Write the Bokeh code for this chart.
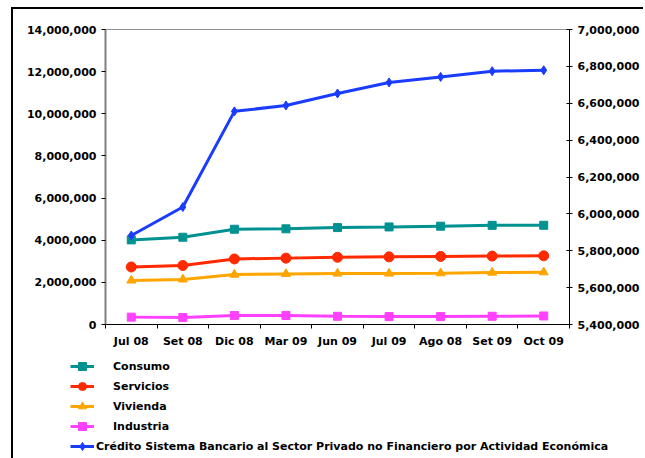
import numpy as np
from bokeh.plotting import figure
from bokeh.models import (Range1d, LinearAxis, FixedTicker, NumeralTickFormatter,
                          Legend, LegendItem)
from bokeh.embed import file_html
from bokeh.resources import INLINE

# ---- data ----
months = ["Jul 08", "Set 08", "Dic 08", "Mar 09", "Jun 09", "Jul 09", "Ago 08", "Set 09", "Oct 09"]
consumo = [4015000, 4140000, 4520000, 4540000, 4600000, 4630000, 4665000, 4705000, 4710000]
servicios = [2730000, 2800000, 3110000, 3150000, 3190000, 3210000, 3230000, 3245000, 3260000]
vivienda = [2090000, 2140000, 2370000, 2400000, 2420000, 2420000, 2435000, 2465000, 2480000]
industria = [350000, 330000, 430000, 430000, 390000, 375000, 375000, 390000, 405000]
credito = [5883000, 6037000, 6556000, 6588000, 6653000, 6713000, 6743000, 6774000, 6779000]
left_ticks = [0, 2000000, 4000000, 6000000, 8000000, 10000000, 12000000, 14000000]
right_ticks = [5400000, 5600000, 5800000, 6000000, 6200000, 6400000, 6600000, 6800000, 7000000]
series_names = ["Consumo", "Servicios", "Vivienda", "Industria",
                "Crédito Sistema Bancario al Sector Privado no Financiero por Actividad Económica"]

FONT = "DejaVu Sans"
FS = "11px"
TXT = "black"

n = len(months)
xc = [i + 0.5 for i in range(n)]

p = figure(width=632, height=347, output_backend="svg", toolbar_location=None, title=None,
           x_range=Range1d(0, n), y_range=Range1d(left_ticks[0], left_ticks[-1]),
           min_border_left=92, min_border_right=76, min_border_top=20, min_border_bottom=32,
           background_fill_color="white", border_fill_color="white")
p.margin = (9, 0, 0, 13)
p.styles = {"box-shadow": "-2px -2px 0 0 #000, -2px 0 0 0 #000"}
p.extra_y_ranges = {"right": Range1d(right_ticks[0], right_ticks[-1])}

p.xgrid.visible = False
p.ygrid.visible = False
p.outline_line_color = "#909090"
p.outline_line_width = 1

# x axis
xa = p.xaxis[0]
xa.ticker = FixedTicker(ticks=xc, minor_ticks=list(range(n + 1)))
xa.major_label_overrides = {x: m for x, m in zip(xc, months)}
xa.major_tick_line_color = None
xa.minor_tick_out = 4
xa.minor_tick_in = 0
xa.minor_tick_line_color = "black"
xa.axis_line_color = "black"
xa.major_label_standoff = 4
xa.major_label_text_font = FONT
xa.major_label_text_font_style = "bold"
xa.major_label_text_font_size = FS
xa.major_label_text_color = TXT

# left axis
ya = p.yaxis[0]
ya.ticker = FixedTicker(ticks=left_ticks)
ya.formatter = NumeralTickFormatter(format="0,0")
ya.axis_line_color = "#7f7f7f"
ya.axis_line_width = 2
ya.major_tick_out = 4
ya.major_tick_in = 0
ya.major_tick_line_color = "black"
ya.minor_tick_line_color = None
ya.major_label_standoff = 5
ya.major_label_text_font = FONT
ya.major_label_text_font_style = "bold"
ya.major_label_text_font_size = FS
ya.major_label_text_color = TXT

# right axis
ra = LinearAxis(y_range_name="right", ticker=FixedTicker(ticks=right_ticks),
                formatter=NumeralTickFormatter(format="0,0"))
ra.axis_line_color = "black"
ra.major_tick_out = 3
ra.major_tick_in = 3
ra.major_tick_line_color = "black"
ra.minor_tick_line_color = None
ra.major_label_standoff = 5
ra.major_label_text_font = FONT
ra.major_label_text_font_style = "bold"
ra.major_label_text_font_size = FS
ra.major_label_text_color = TXT
p.add_layout(ra, "right")

LW = 3
colors = ["#009191", "#ff2a00", "#ffa500", "#ff40ff", "#1a3cff"]
markers = ["square", "circle", "triangle", "square", "diamond"]
sizes = [8, 10, 9, 8, 9]
values = [consumo, servicios, vivienda, industria, credito]
ranges = ["default", "default", "default", "default", "right"]

for vals, c, mk, s, rn in zip(values, colors, markers, sizes, ranges):
    p.line(xc, vals, line_color=c, line_width=LW, y_range_name=rn)
    p.scatter(xc, vals, marker=mk, size=s, color=c, y_range_name=rn)

# ---- legend panel: a second root whose frame covers its whole canvas ----
lp = figure(width=632, height=102, output_backend="svg", toolbar_location=None, title=None,
            x_axis_location=None, y_axis_location=None,
            x_range=Range1d(100, 101), y_range=Range1d(100, 101),
            min_border_left=0, min_border_right=0, min_border_top=0, min_border_bottom=0,
            background_fill_color="white", border_fill_color="white")
lp.margin = (0, 0, 0, 13)
lp.styles = {"box-shadow": "-2px 0 0 0 #000"}
lp.outline_line_color = None
lp.xgrid.visible = False
lp.ygrid.visible = False

items = []
for name, vals, c, mk, s in zip(series_names, values, colors, markers, sizes):
    # same series, drawn outside this panel's visible range: only the legend keys show
    r1 = lp.line(xc, vals, line_color=c, line_width=LW)
    r2 = lp.scatter(xc, vals, marker=mk, size=s, color=c)
    items.append(LegendItem(label=name, renderers=[r1, r2]))


def mk_legend(its, standoff, loc):
    return Legend(items=its, orientation="vertical", location=loc,
                  glyph_width=24, glyph_height=20, label_height=20, spacing=0,
                  padding=0, margin=0, label_standoff=standoff,
                  border_line_color=None, background_fill_alpha=0,
                  label_text_font=FONT, label_text_font_style="bold",
                  label_text_font_size=FS, label_text_color=TXT)


lp.add_layout(mk_legend(items[:4], 19, (57, 22)), "center")
lp.add_layout(mk_legend(items[4:], 2, (57, 2)), "center")

open("out.html", "w").write(file_html([p, lp], INLINE))
